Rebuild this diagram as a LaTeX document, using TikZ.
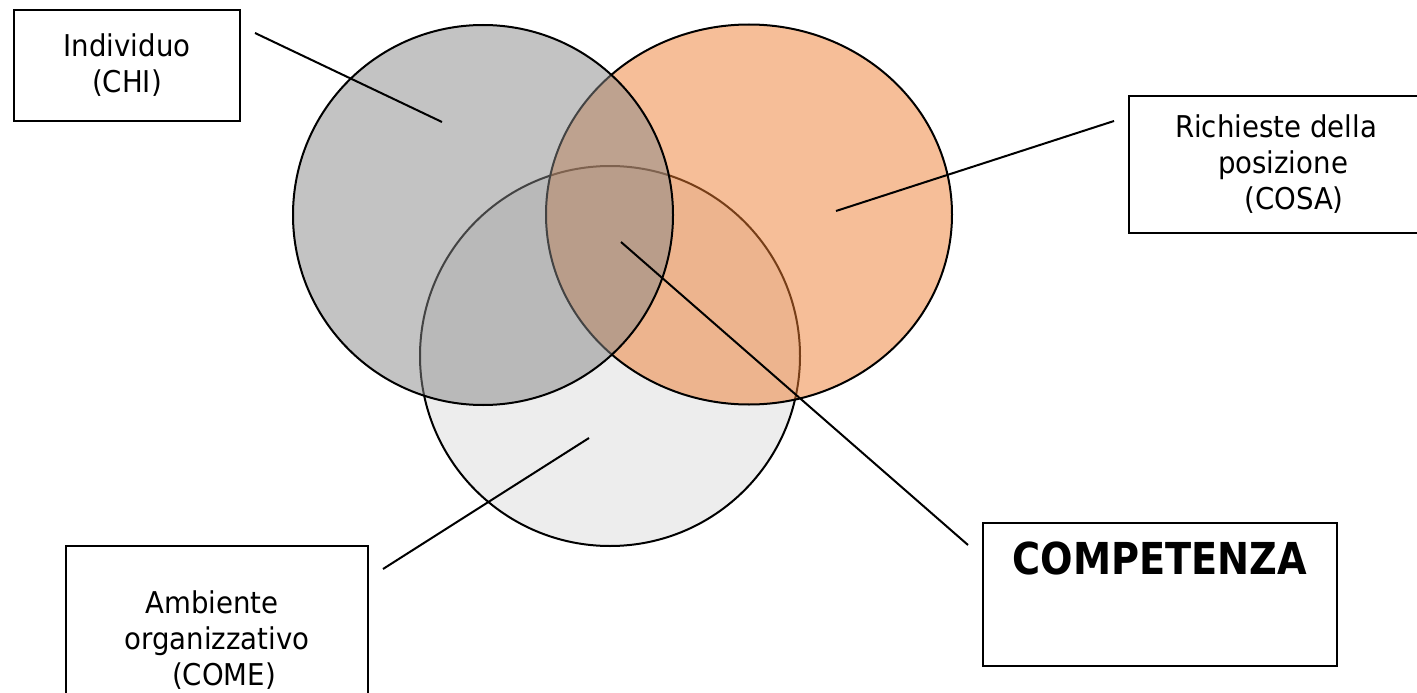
\documentclass[tikz,border=0pt]{standalone}
\usepackage{fontspec}
\setmainfont{DejaVu Sans}[FakeStretch=0.92]
\newfontfamily\headfont{DejaVu Sans}[FakeStretch=0.87]
\definecolor{personfill}{HTML}{878787}
\definecolor{rolefill}{HTML}{ED7D31}
\definecolor{envfill}{HTML}{EDEDED}
\begin{document}
\begin{tikzpicture}[x=1pt,y=-1pt,
  venn/.style={draw=black,line width=2pt},
  labelbox/.style={draw=black,line width=1.8pt,rectangle,inner sep=0pt,
    align=center,font=\fontsize{30}{36}\selectfont},
  pointer/.style={draw=black,line width=2pt}]
\useasboundingbox (0,0) rectangle (1417,693);

% the three sets: environment first, the other two translucent on top
\path[venn, fill=envfill] (610,356) circle[radius=190];
\path[venn, fill=rolefill, fill opacity=0.5] (749,214.5) ellipse[x radius=203, y radius=190];
\path[venn, fill=personfill, fill opacity=0.5] (483,215) circle[radius=190];

% label boxes
\node[labelbox, minimum width=226pt, minimum height=111pt] (who) at (127,65.5)
  {Individuo\\(CHI)};
\node[labelbox, minimum width=294pt, minimum height=137pt] (what) at (1276,164.5)
  {Richieste della\\\hspace*{14pt}posizione\\\hspace*{36pt}(COSA)};
\node[labelbox, minimum width=302pt, minimum height=188pt] (how) at (217,640)
  {Ambiente\hspace*{10pt}\\organizzativo\\\hspace*{14pt}(COME)};
\node[labelbox, minimum width=354pt, text height=52pt, text depth=91pt,
  font=\headfont\bfseries\fontsize{44}{53}\selectfont, anchor=north] (skill) at (1160,522)
  {COMPETENZA};

% pointer lines
\coordinate (whoFrom) at (255,33);   \coordinate (whoTo) at (442,122);
\coordinate (whatFrom) at (1114,121); \coordinate (whatTo) at (836,211);
\coordinate (howFrom) at (383,569);  \coordinate (howTo) at (589,438);
\coordinate (skillFrom) at (968,545); \coordinate (skillTo) at (621,242);
\draw[pointer] (whoFrom) -- (whoTo);
\draw[pointer] (whatFrom) -- (whatTo);
\draw[pointer] (howFrom) -- (howTo);
\draw[pointer] (skillFrom) -- (skillTo);
\end{tikzpicture}
\end{document}
